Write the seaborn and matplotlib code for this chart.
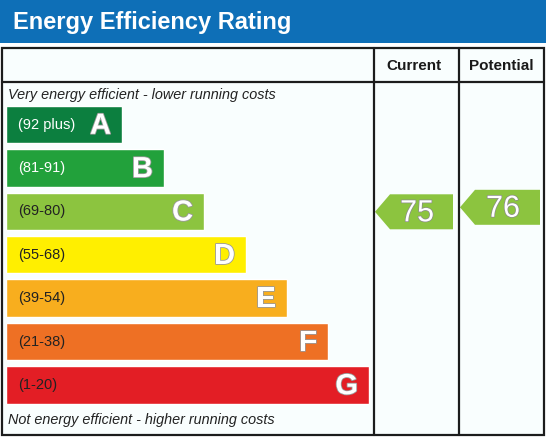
import seaborn as sns
import matplotlib.pyplot as plt
import matplotlib.patheffects as pe
from matplotlib.patches import Polygon, Rectangle

# rating bands, top (most efficient) to bottom
band_letter = ["A", "B", "C", "D", "E", "F", "G"]
band_range = ["(92 plus)", "(81-91)", "(69-80)", "(55-68)", "(39-54)", "(21-38)", "(1-20)"]
band_min = [92, 81, 69, 55, 39, 21, 1]
band_length = [116, 158, 198, 240, 281, 322, 363]
band_colors = ["#0c7f3f", "#22a13b", "#8cc43f", "#ffef00", "#f8ae1e", "#ee7024", "#e31e25"]
range_text_colors = ["white", "white", "#222222", "#222222", "#222222", "#222222", "#222222"]

current_rating = 75
potential_rating = 76

title = "Energy Efficiency Rating"
top_note = "Very energy efficient - lower running costs"
bottom_note = "Not energy efficient - higher running costs"

sns.set_style("white")
plt.rcParams["font.family"] = ["Liberation Sans", "DejaVu Sans"]

W, H = 546, 437
fig = plt.figure(figsize=(W / 100, H / 100), dpi=100)
fig.patch.set_facecolor("white")

# background axes in pixel coordinates
ax = fig.add_axes([0, 0, 1, 1])
ax.set_xlim(0, W)
ax.set_ylim(H, 0)
ax.axis("off")

# title band
ax.add_patch(Rectangle((0, 0), W, 43, color="#0e6fb7", lw=0))
ax.text(13, 22, title, color="white", fontsize=17, fontweight="bold", va="center", ha="left")

# table
ax.add_patch(Rectangle((2, 48), 542, 387, facecolor="#f9fefe", edgecolor="#1c1c1c", lw=1.6))
ax.plot([2, 544], [82, 82], color="#1c1c1c", lw=1.6)
for xc in [374, 459]:
    ax.plot([xc, xc], [48, 435], color="#1c1c1c", lw=1.6)
ax.text(414, 66, "Current", fontsize=11, fontweight="bold", ha="center", va="center", color="#1a1a1a")
ax.text(501.5, 66, "Potential", fontsize=11, fontweight="bold", ha="center", va="center", color="#1a1a1a")

ax.text(8, 95, top_note, fontsize=10.4, style="italic", va="center", color="#222222")
ax.text(8, 420, bottom_note, fontsize=10.4, style="italic", va="center", color="#222222")

# bars axes: rows positioned over the table
row0, pitch = 124.5, 43.4
top = row0 - pitch / 2
height = pitch * len(band_letter)
axb = fig.add_axes([6 / W, 1 - (top + height) / H, 540 / W, height / H])
sns.barplot(x=band_length, y=band_letter, hue=band_letter, palette=band_colors,
            orient="h", width=0.865, saturation=1, legend=False, ax=axb)
axb.set_xlim(0, 540)
axb.set_ylim(len(band_letter) - 0.5, -0.5)
axb.axis("off")
axb.patch.set_alpha(0)

for i, (letter, rng) in enumerate(zip(band_letter, band_range)):
    axb.text(12, i, rng, fontsize=10.5, va="center", ha="left", color=range_text_colors[i])
    axb.text(band_length[i] - 11, i + 0.03, letter, fontsize=21, fontweight="bold",
             va="center", ha="right", color="white",
             path_effects=[pe.withStroke(linewidth=1.2, foreground="#9a9a9a")])


def band_index(rating):
    for i, lo in enumerate(band_min):
        if rating >= lo:
            return i
    return len(band_min) - 1


def rating_arrow(rating, x0, x1, dy):
    i = band_index(rating)
    yc = row0 + pitch * i + dy
    h = 17.5
    tip = 15
    pts = [(x0, yc), (x0 + tip, yc - h), (x1, yc - h), (x1, yc + h), (x0 + tip, yc + h)]
    ax.add_patch(Polygon(pts, closed=True, color=band_colors[i], lw=0))
    ax.text((x0 + x1) / 2 + 3, yc + 1.5, str(rating), fontsize=22, color="white",
            ha="center", va="center",
            path_effects=[pe.withStroke(linewidth=1.0, foreground="#8a8a8a")])


rating_arrow(current_rating, 375, 453, 0.5)
rating_arrow(potential_rating, 460, 540, -4)

fig.savefig("out.png", dpi=100)
